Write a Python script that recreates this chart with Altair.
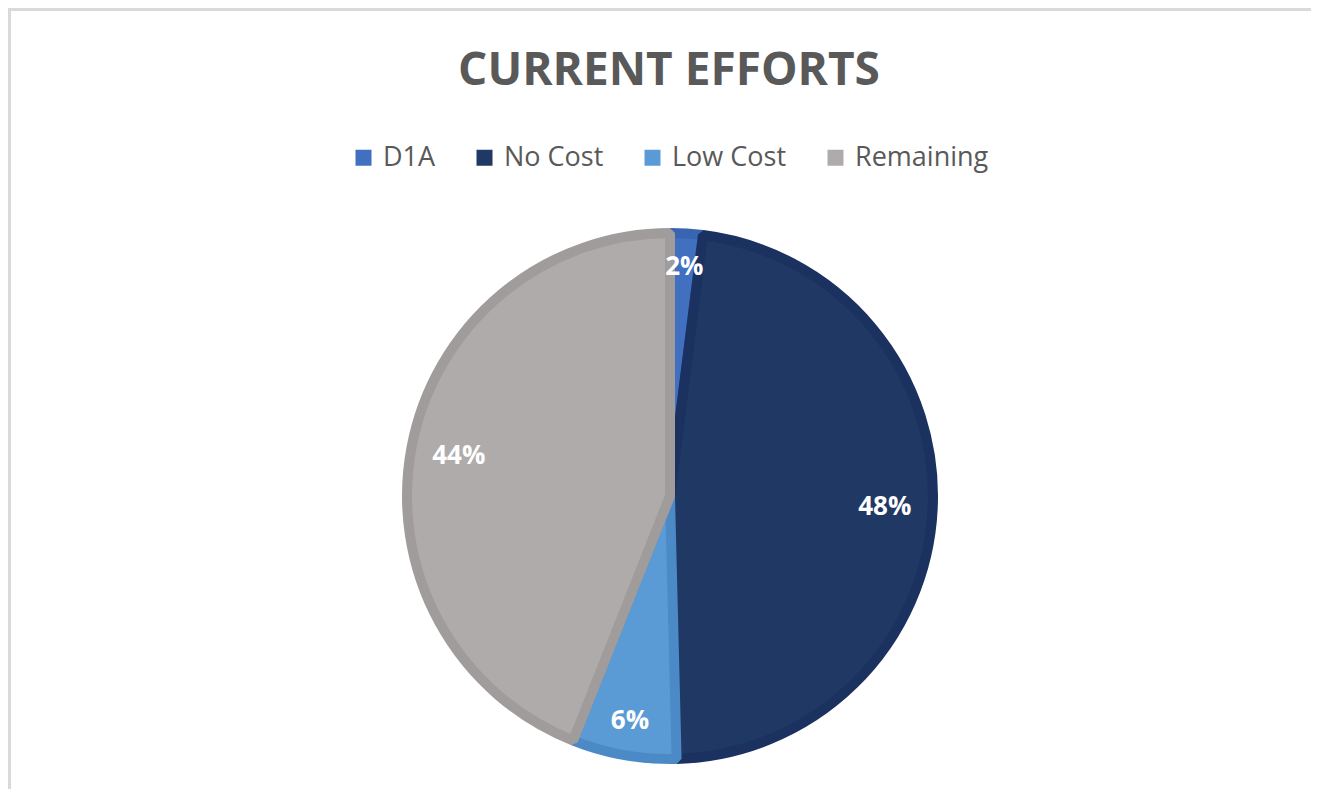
import altair as alt
import pandas as pd

categories = ["D1A", "No Cost", "Low Cost", "Remaining"]
values = [2.0, 47.6, 6.4, 44.0]
labels = ["2%", "48%", "6%", "44%"]
fill_colors = ["#4170C1", "#203864", "#5B9BD5", "#AFABAB"]
edge_colors = ["#3964B2", "#1B3160", "#4B8AC6", "#A09C9C"]
title_text = ["CURRENT EFFORTS"]

df = pd.DataFrame({
    "cat": categories,
    "value": values,
    "label": labels,
    "idx": list(range(len(categories))),
})
title_df = pd.DataFrame({"t": title_text})

W, H = 1303, 781
CX, CY = 662, 488

color_enc = alt.Color(
    "cat:N",
    sort=categories,
    scale=alt.Scale(domain=categories, range=fill_colors),
    legend=alt.Legend(
        title=None,
        orient="none",
        direction="horizontal",
        legendX=342,
        legendY=136,
        symbolType="square",
        symbolSize=256,
        symbolStrokeWidth=0,
        labelFont="Open Sans",
        labelFontSize=27,
        labelColor="#595959",
        labelOffset=6,
        columnPadding=35,
        padding=0,
    ),
)

base = alt.Chart(df).encode(
    theta=alt.Theta("value:Q", stack=True),
    order=alt.Order("idx:Q"),
    x=alt.value(CX),
    y=alt.value(CY),
)

arcs = base.mark_arc(outerRadius=263, strokeWidth=10, strokeJoin="bevel").encode(
    color=color_enc,
    stroke=alt.Stroke("cat:N", sort=categories,
                      scale=alt.Scale(domain=categories, range=edge_colors),
                      legend=None),
)

text_style = dict(font="Open Sans", fontWeight="bold", fontSize=26, color="white",
                  align="center", baseline="middle")

# labels of the thin slices sit further out than those of the big ones
texts_small = base.mark_text(radius=229, **text_style).encode(
    text="label:N",
    detail="cat:N",
    opacity=alt.condition(alt.datum.value < 10, alt.value(1), alt.value(0)),
)
texts_big = base.mark_text(radius=215, **text_style).encode(
    text="label:N",
    detail="cat:N",
    opacity=alt.condition(alt.datum.value < 10, alt.value(0), alt.value(1)),
)

title = alt.Chart(title_df).mark_text(
    font="Open Sans", fontWeight="bold", fontSize=46, color="#595959",
    align="center", baseline="alphabetic",
).encode(text="t:N", x=alt.value(661), y=alt.value(77))

top_rule = alt.Chart(title_df).mark_rule(color="#D9D9D9", strokeWidth=3).encode(
    x=alt.value(0), x2=alt.value(W), y=alt.value(1.5)
)
left_rule = alt.Chart(title_df).mark_rule(color="#D9D9D9", strokeWidth=3).encode(
    x=alt.value(1.5), y=alt.value(0), y2=alt.value(H)
)

chart = alt.layer(top_rule, left_rule, arcs, texts_small, texts_big, title).properties(
    width=W, height=H,
    autosize=alt.AutoSizeParams(type="none"),
    padding=0,
).configure_view(stroke=None)

chart.save("out.html", embed_options={"renderer": "svg", "actions": False})
